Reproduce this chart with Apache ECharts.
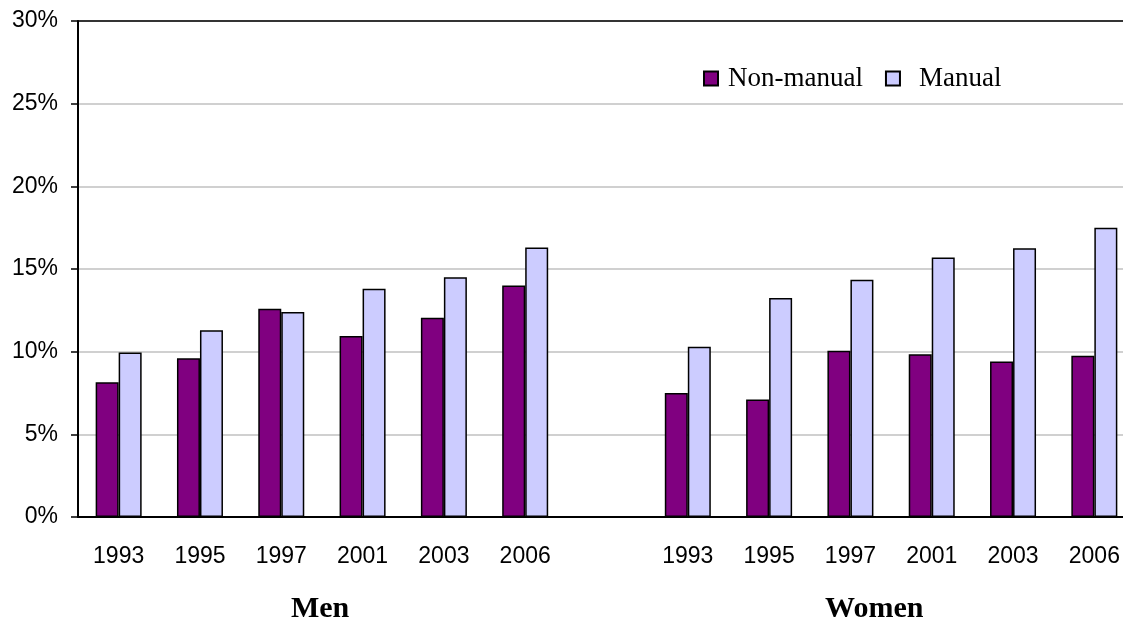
<!DOCTYPE html>
<html>
<head>
<meta charset="utf-8">
<title>Non-manual vs Manual</title>
<script src="https://cdn.jsdelivr.net/npm/echarts@6/dist/echarts.min.js"></script>
<style>
	html, body {
		margin: 0;
		padding: 0;
		background: #ffffff;
	}

	#chart {
		width: 1123px;
		height: 617px;
	}
</style>
</head>
<body>
<div id="chart"></div>
<script>
	// years per group, one empty slot between the groups
	var menYears = ['1993', '1995', '1997', '2001', '2003', '2006'];
	var womenYears = ['1993', '1995', '1997', '2001', '2003', '2006'];
	var groupNames = ['Men', 'Women'];

	// values in %
	var menNonManual = [8.15, 9.6, 12.6, 10.95, 12.05, 14.0];
	var menManual = [9.95, 11.3, 12.4, 13.8, 14.5, 16.3];
	var womenNonManual = [7.5, 7.1, 10.05, 9.85, 9.4, 9.75];
	var womenManual = [10.3, 13.25, 14.35, 15.7, 16.25, 17.5];

	var yTicks = [0, 5, 10, 15, 20, 25, 30];

	// category keys must be unique, label shows the year only
	var categories = menYears.map(function (y) { return 'M|' + y; })
		.concat(['gap'])
		.concat(womenYears.map(function (y) { return 'W|' + y; }));
	var nonManual = menNonManual.concat(['-']).concat(womenNonManual);
	var manual = menManual.concat(['-']).concat(womenManual);

	var myChart = echarts.init(document.getElementById('chart'));

	var gridLeft = 78, gridTop = 21, gridWidth = 1057, gridHeight = 496;
	var catW = gridWidth / categories.length;
	var menCenter = gridLeft + catW * 3;
	var womenCenter = gridLeft + catW * 10;

	var option = {
		animation: false,
		backgroundColor: '#ffffff',
		color: ['#800080', '#CCCCFF'],
		legend: {
			left: 698,
			top: 60,
			icon: 'rect',
			itemWidth: 14,
			itemHeight: 14,
			itemGap: 22,
			textStyle: {
				fontFamily: 'Liberation Serif',
				fontSize: 27,
				color: '#000000'
			},
			data: [{
				name: 'Non-manual',
				textStyle: { padding: [0, 0, 0, 5] }
			}, {
				name: 'Manual',
				textStyle: { padding: [0, 0, 0, 14] }
			}]
		},
		grid: {
			left: gridLeft,
			top: gridTop,
			width: gridWidth,
			height: gridHeight,
			containLabel: false,
			outerBoundsMode: 'none'
		},
		xAxis: [{
			type: 'category',
			data: categories,
			boundaryGap: true,
			axisLine: { lineStyle: { color: '#000000', width: 2 } },
			axisTick: { length: 7, lineStyle: { color: '#000000', width: 1.5 } },
			axisLabel: {
				interval: 0,
				margin: 28,
				fontFamily: 'Liberation Sans',
				fontSize: 23,
				color: '#000000',
				formatter: function (v) {
					return v === 'gap' ? '' : v.split('|')[1];
				}
			},
			splitLine: { show: false }
		}, {
			// top border of the plot
			type: 'category',
			position: 'top',
			data: categories,
			axisLine: { show: true, lineStyle: { color: '#000000', width: 1.5 } },
			axisTick: { show: false },
			axisLabel: { show: false }
		}],
		yAxis: {
			type: 'value',
			min: yTicks[0],
			max: yTicks[yTicks.length - 1],
			interval: 5,
			axisLine: { show: true, lineStyle: { color: '#000000', width: 2 } },
			axisTick: { show: true, length: 7, lineStyle: { color: '#000000', width: 1.5 } },
			axisLabel: {
				margin: 20,
				fontFamily: 'Liberation Sans',
				fontSize: 23,
				color: '#000000',
				formatter: '{value}%'
			},
			splitLine: { lineStyle: { color: '#c0c0c0', width: 1.5 } }
		},
		series: [{
			name: 'Non-manual',
			type: 'bar',
			data: nonManual,
			barWidth: 23,
			barGap: '0%',
			itemStyle: { borderColor: '#000000', borderWidth: 1.5 }
		}, {
			name: 'Manual',
			type: 'bar',
			data: manual,
			barWidth: 23,
			barGap: '0%',
			itemStyle: { borderColor: '#000000', borderWidth: 1.5 }
		}],
		graphic: [{
			type: 'text',
			left: menCenter - 31,
			top: 594,
			style: {
				text: groupNames[0],
				fontFamily: 'Liberation Serif',
				fontWeight: 'bold',
				fontSize: 30,
				fill: '#000000'
			}
		}, {
			type: 'text',
			left: womenCenter - 66,
			top: 594,
			style: {
				text: groupNames[1],
				fontFamily: 'Liberation Serif',
				fontWeight: 'bold',
				fontSize: 30,
				fill: '#000000'
			}
		}]
	};

	myChart.setOption(option);
</script>
</body>
</html>
